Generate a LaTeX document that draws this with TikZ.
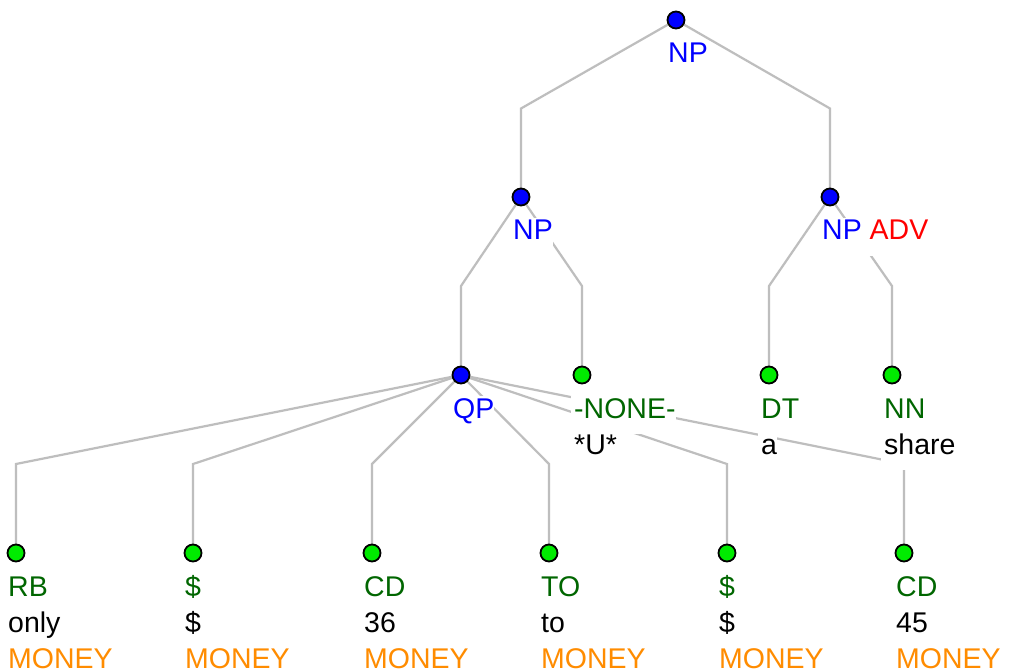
\documentclass[tikz,border=0pt]{standalone}
\usepackage{fontspec}
\setmainfont{Liberation Sans}
\usetikzlibrary{calc,backgrounds}
\definecolor{phraseblue}{RGB}{0,0,255}
\definecolor{tagdark}{RGB}{0,102,0}
\definecolor{leafgreen}{RGB}{0,235,0}
\definecolor{moneyorange}{RGB}{255,140,0}
\definecolor{greyline}{RGB}{190,190,190}
\newcommand{\linecolor}{greyline}
\newcommand{\up}{22pt}
\newcommand{\down}{16pt}
\newcommand{\pad}[1]{\hspace{3pt}#1\hspace{12pt}}

\tikzset{
  dot/.style={circle, draw=black, line width=1.8pt, inner sep=0pt, minimum size=17pt},
  txt/.style={anchor=base west, fill=white, inner sep=0pt, text height=\up, text depth=\down, font=\fontsize{28.5}{36}\selectfont},
  ent/.style={txt, text=moneyorange, text depth=1pt},
  branch/.style={draw=\linecolor, line width=2.2pt}
}

\begin{document}
\begin{tikzpicture}[x=1pt,y=-1pt]
\useasboundingbox (0,0) rectangle (1017,671);
% dots
\node[dot, fill=phraseblue] (1) at (676,20) {};
\node[dot, fill=phraseblue] (2) at (521,197) {};
\node[dot, fill=phraseblue] (3) at (830,197) {};
\node[dot, fill=phraseblue] (4) at (461,375) {};
\node[dot, fill=leafgreen] (5) at (582,375) {};
\node[dot, fill=leafgreen] (6) at (769,375) {};
\node[dot, fill=leafgreen] (7) at (892,375) {};
\node[dot, fill=leafgreen] (8) at (16,553) {};
\node[dot, fill=leafgreen] (9) at (193,553) {};
\node[dot, fill=leafgreen] (10) at (372,553) {};
\node[dot, fill=leafgreen] (11) at (549,553) {};
\node[dot, fill=leafgreen] (12) at (727,553) {};
\node[dot, fill=leafgreen] (13) at (904,553) {};
% labels
\node[txt, text=phraseblue] (1t) at ([xshift=-11pt,yshift=-43pt]1.center) {\pad{NP}};
\node[txt, text=phraseblue] (2t) at ([xshift=-11pt,yshift=-43pt]2.center) {\pad{NP}};
\node[txt, text=phraseblue] (3t) at ([xshift=-11pt,yshift=-43pt]3.center) {\pad{NP \textcolor{red}{ADV}}};
\node[txt, text=phraseblue] (4t) at ([xshift=-11pt,yshift=-43pt]4.center) {\pad{QP}};
\node[txt, text=tagdark] (5t) at ([xshift=-11pt,yshift=-43pt]5.center) {\pad{-NONE-}};
\node[txt] (5w) at ([yshift=-36pt]5t.base west) {\pad{*U*}};
\node[txt, text=tagdark] (6t) at ([xshift=-11pt,yshift=-43pt]6.center) {\pad{DT}};
\node[txt] (6w) at ([yshift=-36pt]6t.base west) {\pad{a}};
\node[txt, text=tagdark] (7t) at ([xshift=-11pt,yshift=-43pt]7.center) {\pad{NN}};
\node[txt] (7w) at ([yshift=-36pt]7t.base west) {\pad{share}};
\node[txt, text=tagdark] (8t) at ([xshift=-11pt,yshift=-43pt]8.center) {\pad{RB}};
\node[txt] (8w) at ([yshift=-36pt]8t.base west) {\pad{only}};
\node[ent] (8e) at ([yshift=-36pt]8w.base west) {\pad{MONEY}};
\node[txt, text=tagdark] (9t) at ([xshift=-11pt,yshift=-43pt]9.center) {\pad{\$}};
\node[txt] (9w) at ([yshift=-36pt]9t.base west) {\pad{\$}};
\node[ent] (9e) at ([yshift=-36pt]9w.base west) {\pad{MONEY}};
\node[txt, text=tagdark] (10t) at ([xshift=-11pt,yshift=-43pt]10.center) {\pad{CD}};
\node[txt] (10w) at ([yshift=-36pt]10t.base west) {\pad{36}};
\node[ent] (10e) at ([yshift=-36pt]10w.base west) {\pad{MONEY}};
\node[txt, text=tagdark] (11t) at ([xshift=-11pt,yshift=-43pt]11.center) {\pad{TO}};
\node[txt] (11w) at ([yshift=-36pt]11t.base west) {\pad{to}};
\node[ent] (11e) at ([yshift=-36pt]11w.base west) {\pad{MONEY}};
\node[txt, text=tagdark] (12t) at ([xshift=-11pt,yshift=-43pt]12.center) {\pad{\$}};
\node[txt] (12w) at ([yshift=-36pt]12t.base west) {\pad{\$}};
\node[ent] (12e) at ([yshift=-36pt]12w.base west) {\pad{MONEY}};
\node[txt, text=tagdark] (13t) at ([xshift=-11pt,yshift=-43pt]13.center) {\pad{CD}};
\node[txt] (13w) at ([yshift=-36pt]13t.base west) {\pad{45}};
\node[ent] (13e) at ([yshift=-36pt]13w.base west) {\pad{MONEY}};
% branches
\begin{scope}[on background layer]
\fill[white] (0,0) rectangle (1017,671);
\draw[branch] (1.center) -- ($(2)!.5!(2|-1)$) -- (2.center);
\draw[branch] (1.center) -- ($(3)!.5!(3|-1)$) -- (3.center);
\draw[branch] (2.center) -- ($(4)!.5!(4|-2)$) -- (4.center);
\draw[branch] (2.center) -- ($(5)!.5!(5|-2)$) -- (5.center);
\draw[branch] (3.center) -- ($(6)!.5!(6|-3)$) -- (6.center);
\draw[branch] (3.center) -- ($(7)!.5!(7|-3)$) -- (7.center);
\draw[branch] (4.center) -- ($(8)!.5!(8|-4)$) -- (8.center);
\draw[branch] (4.center) -- ($(9)!.5!(9|-4)$) -- (9.center);
\draw[branch] (4.center) -- ($(10)!.5!(10|-4)$) -- (10.center);
\draw[branch] (4.center) -- ($(11)!.5!(11|-4)$) -- (11.center);
\draw[branch] (4.center) -- ($(12)!.5!(12|-4)$) -- (12.center);
\draw[branch] (4.center) -- ($(13)!.5!(13|-4)$) -- (13.center);
\end{scope}
\end{tikzpicture}
\end{document}
